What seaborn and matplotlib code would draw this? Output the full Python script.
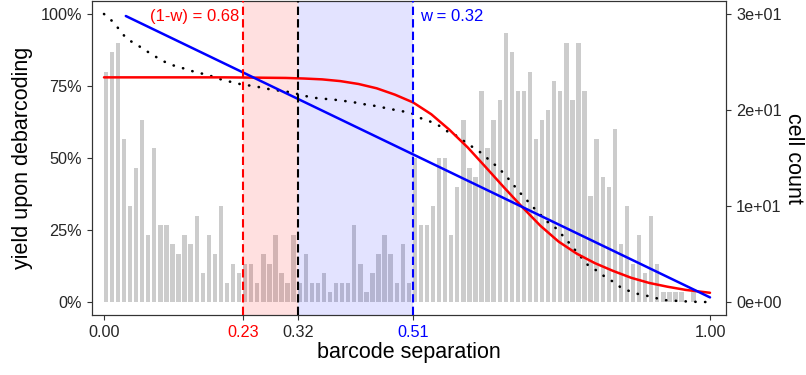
import numpy as np
import pandas as pd
import matplotlib
matplotlib.use("Agg")
import matplotlib.pyplot as plt
import seaborn as sns

# ---------------- data ----------------
# histogram of barcode separation (100 bins of width 0.01)
bin_centers = [round(0.005 + 0.01 * i, 3) for i in range(100)]
cell_counts = [24, 26, 27, 17, 10, 14, 19, 7, 16, 8,
               8, 6, 5, 7, 6, 9, 3, 7, 5, 10,
               2, 4, 3, 4, 4, 2, 5, 4, 7, 3,
               2, 7, 2, 5, 2, 2, 3, 1, 2, 2,
               2, 8, 4, 1, 3, 5, 7, 5, 2, 6,
               2, 15, 8, 8, 10, 15, 15, 7, 12, 19,
               14, 13, 22, 16, 19, 21, 28, 26, 22, 22,
               24, 17, 19, 20, 23, 22, 27, 21, 27, 22,
               11, 17, 13, 12, 18, 6, 10, 4, 7, 3,
               9, 4, 1, 1, 1, 1, 0, 1, 0, 0]

# black dotted curve: yield upon debarcoding
yield_x = [0.000, 0.0165, 0.0275, 0.038, 0.053, 0.066, 0.081, 0.097, 0.112, 0.127,
           0.143, 0.160, 0.176, 0.193, 0.208, 0.224, 0.242, 0.259, 0.275, 0.309,
           0.325, 0.341, 0.358, 0.375, 0.392, 0.409, 0.425, 0.442, 0.459, 0.475,
           0.491, 0.508, 0.523, 0.539, 0.554, 0.569, 0.583, 0.597, 0.611, 0.625,
           0.637, 0.650, 0.662, 0.673, 0.684, 0.695, 0.706, 0.718, 0.730, 0.743,
           0.755, 0.766, 0.788, 0.799, 0.813, 0.827, 0.842, 0.855, 0.871, 0.887,
           0.904, 0.920, 0.937, 0.953, 0.970, 0.987, 1.000]
yield_y = [1.000, 0.970, 0.939, 0.913, 0.895, 0.877, 0.857, 0.837, 0.823, 0.814,
           0.803, 0.794, 0.785, 0.773, 0.765, 0.757, 0.751, 0.745, 0.738, 0.728,
           0.719, 0.711, 0.706, 0.704, 0.699, 0.695, 0.688, 0.683, 0.676, 0.669,
           0.663, 0.655, 0.638, 0.626, 0.611, 0.589, 0.576, 0.554, 0.534, 0.514,
           0.490, 0.468, 0.441, 0.414, 0.385, 0.360, 0.334, 0.308, 0.281, 0.262,
           0.235, 0.209, 0.154, 0.127, 0.109, 0.087, 0.068, 0.047, 0.035, 0.024,
           0.019, 0.007, 0.005, 0.003, 0.001, 0.000, 0.000]

# red curve
red_x = [0.00, 0.10, 0.20, 0.25, 0.30, 0.33, 0.36, 0.39, 0.42, 0.45,
         0.48, 0.51, 0.54, 0.57, 0.60, 0.63, 0.66, 0.69, 0.72, 0.75,
         0.78, 0.81, 0.84, 0.87, 0.90, 0.93, 0.96, 1.00]
red_y = [0.780, 0.780, 0.780, 0.779, 0.778, 0.776, 0.773, 0.767, 0.757, 0.742,
         0.720, 0.693, 0.652, 0.598, 0.537, 0.468, 0.398, 0.330, 0.265, 0.210,
         0.168, 0.135, 0.108, 0.084, 0.066, 0.053, 0.042, 0.032]

# blue straight line
blue_x = [0.036, 1.000]
blue_y = [0.993, 0.016]

# thresholds and labels
cut_values = [0.23, 0.32, 0.51]
cut_colors = ["#ff0000", "#000000", "#0000ff"]
x_tick_values = [0.00, 0.23, 0.32, 0.51, 1.00]
x_tick_labels = ["0.00", "0.23", "0.32", "0.51", "1.00"]
x_tick_colors = ["#262626", "#ff0000", "#262626", "#0000ff", "#262626"]
y_tick_values = [0.0, 0.25, 0.5, 0.75, 1.0]
y_tick_labels = ["0%", "25%", "50%", "75%", "100%"]
count_tick_values = [0, 10, 20, 30]
count_tick_labels = ["0e+00", "1e+01", "2e+01", "3e+01"]
label_low = "(1-w) = 0.68"
label_high = "w = 0.32"

# ---------------- plot ----------------
sns.set_theme(style="ticks")
plt.rcParams["font.family"] = ["Liberation Sans", "DejaVu Sans"]

W, H = 806, 375
fig = plt.figure(figsize=(W / 100, H / 100), dpi=100)
L, R, T, B = 92, 726, 1, 315
ax_c = fig.add_axes([L / W, 1 - B / H, (R - L) / W, (B - T) / H])

df_bars = pd.DataFrame({"sep": bin_centers, "count": cell_counts})
sns.histplot(data=df_bars, x="sep", weights="count", bins=100,
             binrange=(-0.002, 0.998), shrink=0.72,
             color="#cccccc", alpha=1, edgecolor="none", linewidth=0, ax=ax_c)

ax_y = ax_c.twinx()
ax_c.yaxis.tick_right()
ax_c.yaxis.set_label_position("right")
ax_y.yaxis.tick_left()
ax_y.yaxis.set_label_position("left")

pad_frac = 13 / 288
ax_c.set_ylim(-30 * pad_frac, 30 * (1 + pad_frac))
ax_y.set_ylim(-pad_frac, 1 + pad_frac)
ax_c.set_xlim(-12 / 606, 1 + 16 / 606)

# shaded windows
ax_y.axvspan(cut_values[0], cut_values[1], color=(1, 0, 0), alpha=0.12, lw=0, zorder=0)
ax_y.axvspan(cut_values[1], cut_values[2], color=(0, 0, 1), alpha=0.11, lw=0, zorder=0)

# curves
sns.lineplot(x=yield_x, y=yield_y, ax=ax_y, color="black", lw=1.9,
             linestyle=(0, (0.1, 3.6)), dash_capstyle="round", zorder=3)
sns.lineplot(x=red_x, y=red_y, ax=ax_y, color="#ff0000", lw=1.8, zorder=3)
sns.lineplot(x=blue_x, y=blue_y, ax=ax_y, color="#0000ff", lw=1.8, zorder=3)

for v, c in zip(cut_values, cut_colors):
    ax_y.axvline(v, color=c, lw=1.5, linestyle=(0, (4, 2)), zorder=4)

ax_y.text(0.223, 0.993, label_low, color="#ff0000", ha="right", va="center", fontsize=12)
ax_y.text(0.522, 0.993, label_high, color="#0000ff", ha="left", va="center", fontsize=12)

# ticks
ax_c.set_xticks(x_tick_values)
ax_c.set_xticklabels(x_tick_labels)
ax_c.set_yticks(count_tick_values)
ax_c.set_yticklabels(count_tick_labels)
ax_y.set_yticks(y_tick_values)
ax_y.set_yticklabels(y_tick_labels)

for a in (ax_c, ax_y):
    a.tick_params(axis="both", length=3.6, width=0.8, color="#333333",
                  labelsize=11.7, labelcolor="#262626", pad=3.6)
    for s in a.spines.values():
        s.set_color("#333333")
        s.set_linewidth(0.8)
    a.grid(False)
for lab, col, tk in zip(ax_c.get_xticklabels(), x_tick_colors, ax_c.xaxis.get_major_ticks()):
    lab.set_color(col)
    tk.tick1line.set_color(col if col != "#262626" else "#333333")

ax_c.set_xlabel("barcode separation", fontsize=15.5, color="black")
ax_c.xaxis.set_label_coords(0.5, -0.118)
ax_c.xaxis.label.set_va("center")
ax_y.set_ylabel("yield upon debarcoding", fontsize=15.5, color="black")
ax_y.yaxis.set_label_coords(-0.110, 0.5)
ax_y.yaxis.label.set_va("center")
ax_c.set_ylabel("cell count", fontsize=15.5, color="black", rotation=270)
ax_c.yaxis.set_label_coords(1.1057, 0.5)
ax_c.yaxis.label.set_va("center")
ax_c.yaxis.label.set_ha("center")

fig.savefig("out.png", dpi=100)
